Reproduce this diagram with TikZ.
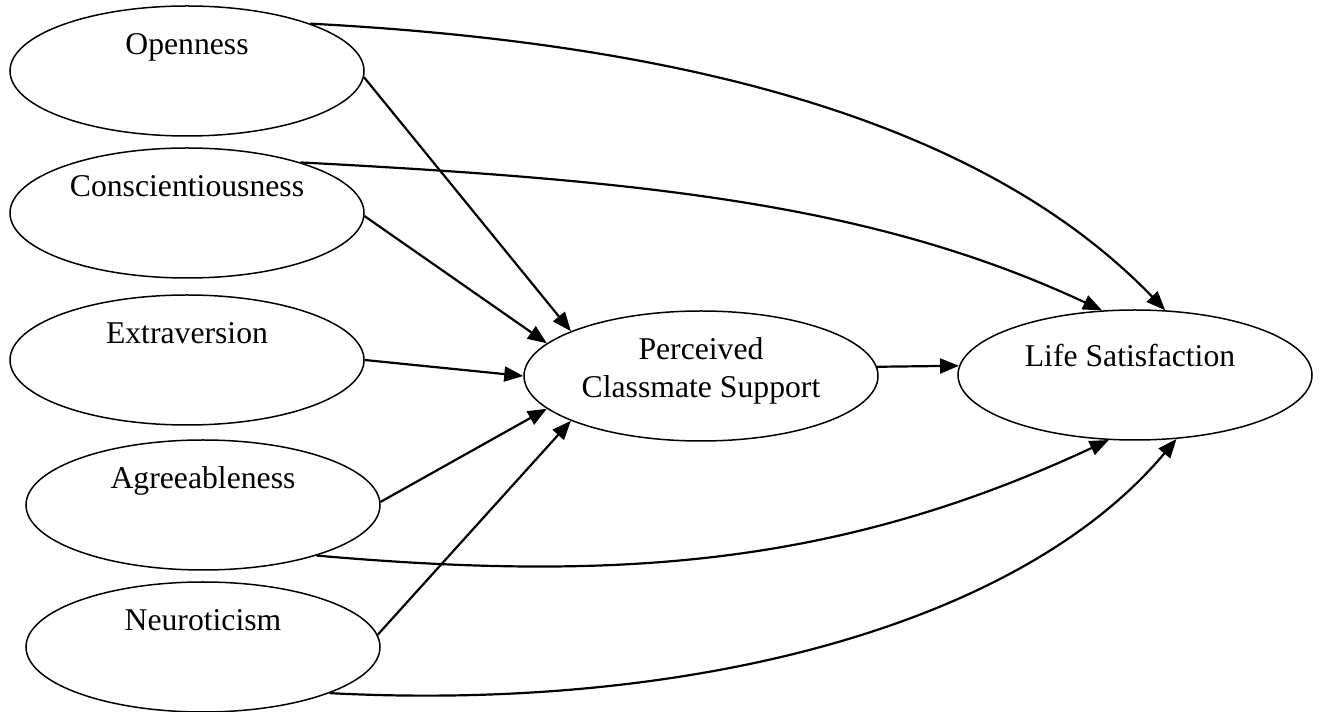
\documentclass[tikz,border=0pt]{standalone}
\usepackage{fontspec}
\setmainfont{Liberation Serif}
\usetikzlibrary{shapes.geometric,arrows.meta}
\tikzset{
  trait/.style={ellipse, draw, line width=1.5pt, minimum width=354pt, minimum height=130pt, inner sep=0pt},
  lbl/.style={anchor=base, inner sep=0pt, align=center},
  path/.style={-{Triangle[length=19pt,width=15pt]}, line width=2.2pt}
}
\begin{document}
\begin{tikzpicture}[x=1pt, y=1pt, font=\fontsize{31.7}{38}\selectfont]
\useasboundingbox (0,0) rectangle (1320,712);
\foreach \n/\x/\y/\t in {o/187/641/Openness, c/187/499/Conscientiousness,
                         e/187/352/Extraversion, a/203/207/Agreeableness,
                         n/203/65/Neuroticism}
    {\node[trait] (\n) at (\x, \y) {};
     \node[lbl] (\n-t) at (\x, \y+16) {\t};};
\node[trait] (p) at (701, 336) {};
\node[lbl] (p-t) at (701, 314) {Perceived\\Classmate Support};
\node[trait] (l) at (1135, 337) {};
\node[lbl] (l-t) at (1130, 345) {Life Satisfaction};
% paths to support
\foreach \s/\a/\b in {o/-2/161, c/-1/168, e/0/180, a/1/192, n/4/199}
    \draw[path] (\s.\a) -- (p.\b);
\draw[path] (p.3) -- (l.177);
% direct paths to life satisfaction
\draw[path] (o.21) to[out=-3, in=134, out distance=400pt, in distance=250pt] (l.65);
\draw[path] (c.24) to[out=-3, in=155, out distance=350pt, in distance=250pt] (l.117);
\draw[path] (a.-24) to[out=-5, in=205, out distance=300pt, in distance=300pt] (l.-112);
\draw[path] (n.-20) to[out=-3, in=230, out distance=350pt, in distance=250pt] (l.-57);
\end{tikzpicture}
\end{document}
